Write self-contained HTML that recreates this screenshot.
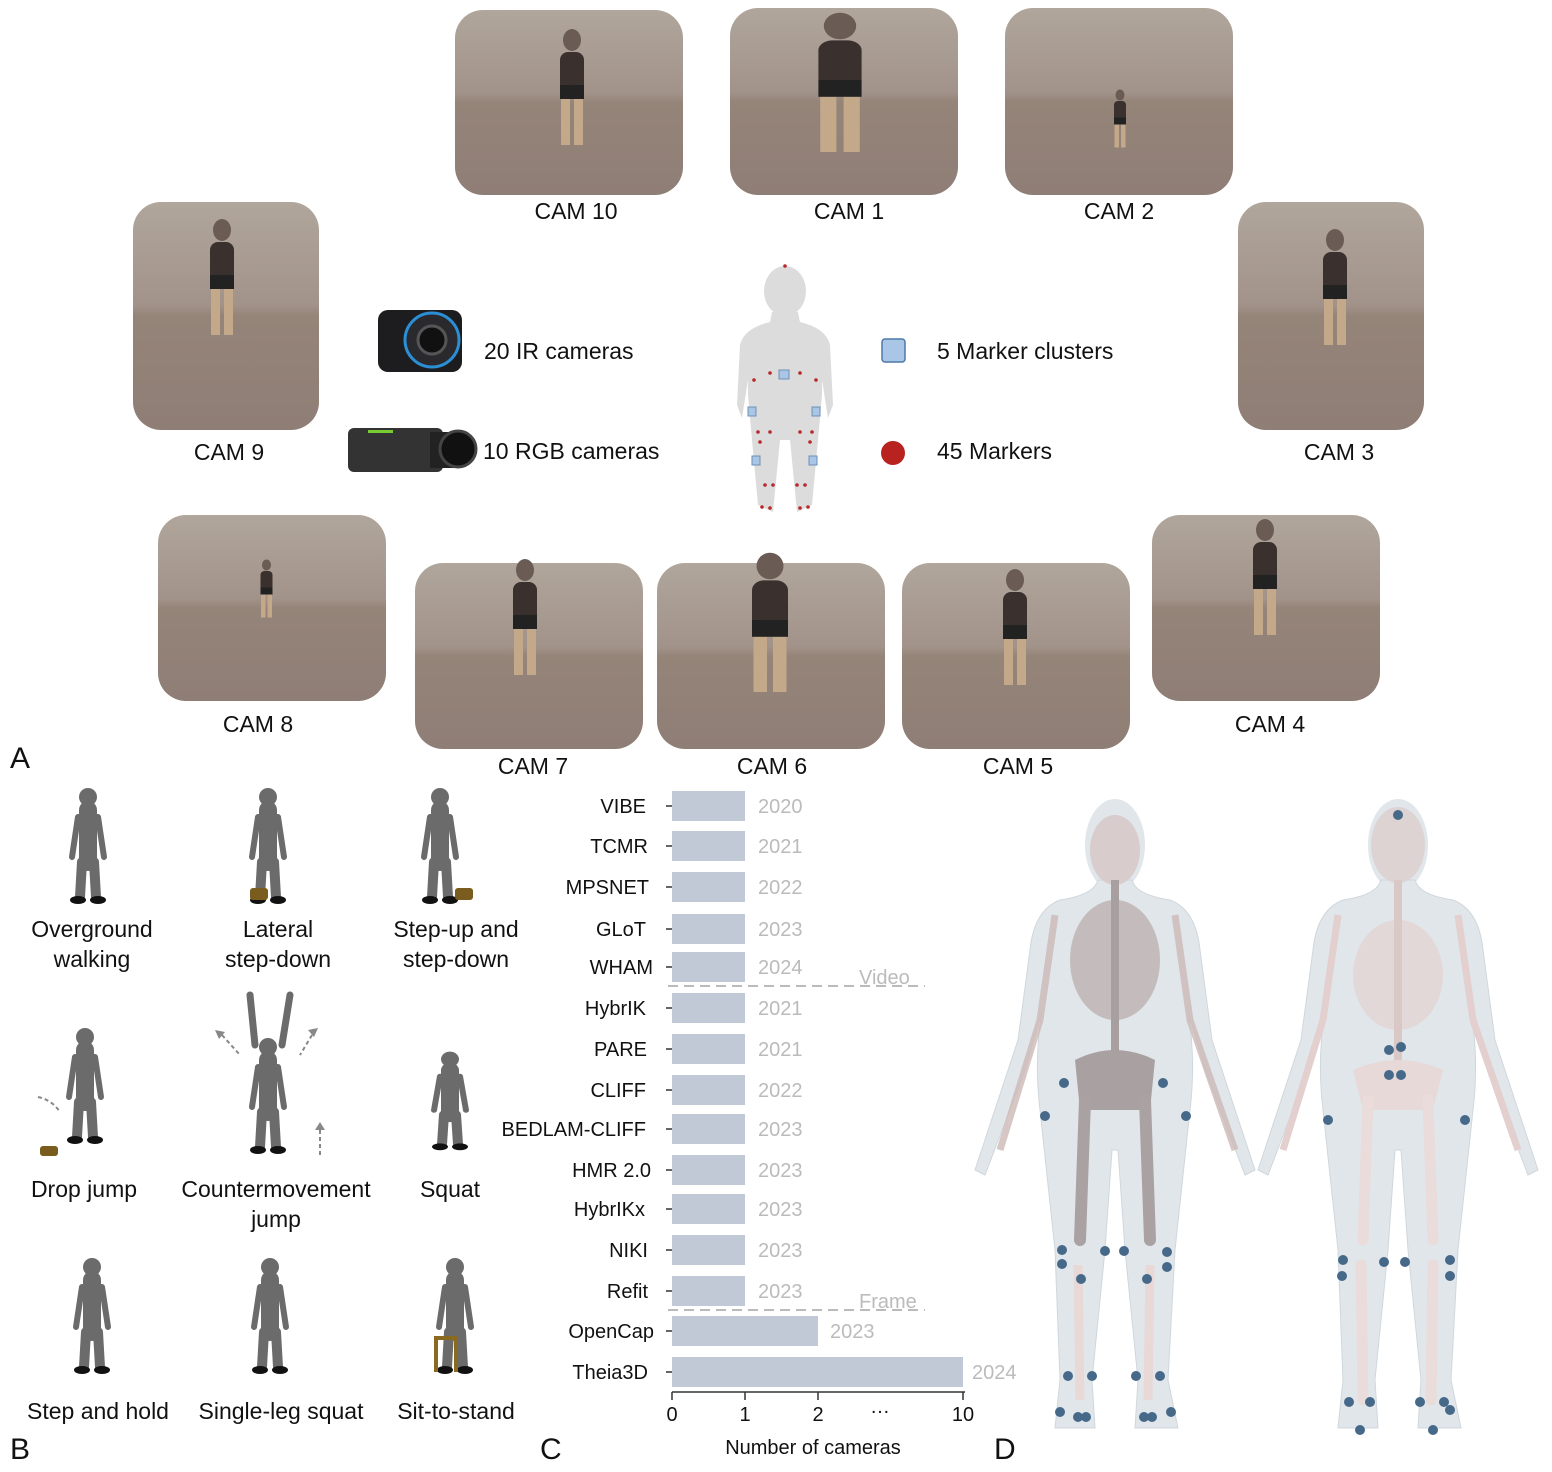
<!DOCTYPE html>
<html><head><meta charset="utf-8"><style>
html,body{margin:0;padding:0;background:#fff}
svg{display:block}
text{font-family:"Liberation Sans","DejaVu Sans",sans-serif;fill:#111}
</style></head><body>
<svg width="1552" height="1472" viewBox="0 0 1552 1472" xmlns="http://www.w3.org/2000/svg">
<defs>
<linearGradient id="ph" x1="0" y1="0" x2="0" y2="1">
<stop offset="0" stop-color="#b0a69c"/><stop offset="0.45" stop-color="#a2938a"/><stop offset="0.5" stop-color="#958478"/><stop offset="1" stop-color="#8f7e76"/>
</linearGradient>
<g id="person"><ellipse cx="0" cy="-70" rx="9" ry="11" fill="#6a5c55"/><rect x="-12" y="-58" width="24" height="40" rx="8" fill="#3a302e"/><rect x="-11" y="-20" width="9" height="55" fill="#c4a88a"/><rect x="2" y="-20" width="9" height="55" fill="#c4a88a"/><rect x="-12" y="-25" width="24" height="14" fill="#222"/></g>
<g id="fig"><circle cx="0" cy="-95" r="9" fill="#6b6b6b"/><path d="M0,-82 L0,-30" stroke="#6b6b6b" stroke-width="18" stroke-linecap="round"/><path d="M-6,-30 L-8,5" stroke="#6b6b6b" stroke-width="10" stroke-linecap="round"/><path d="M6,-30 L8,5" stroke="#6b6b6b" stroke-width="10" stroke-linecap="round"/><path d="M-10,-75 L-16,-35" stroke="#6b6b6b" stroke-width="6" stroke-linecap="round"/><path d="M10,-75 L16,-35" stroke="#6b6b6b" stroke-width="6" stroke-linecap="round"/><ellipse cx="-10" cy="8" rx="8" ry="4" fill="#111"/><ellipse cx="10" cy="8" rx="8" ry="4" fill="#111"/></g>
</defs>

<!-- Photos -->
<g>
<rect x="455" y="10" width="228" height="185" rx="28" fill="url(#ph)"/><use href="#person" x="572" y="110"/>
<rect x="730" y="8" width="228" height="187" rx="28" fill="url(#ph)"/><use href="#person" x="840" y="110" transform="translate(-672,-22) scale(1.8 1.2)"/>
<rect x="1005" y="8" width="228" height="187" rx="28" fill="url(#ph)"/><use href="#person" x="1120" y="130" transform="translate(560,65) scale(0.5)"/>
<rect x="133" y="202" width="186" height="228" rx="28" fill="url(#ph)"/><use href="#person" x="222" y="300"/>
<rect x="1238" y="202" width="186" height="228" rx="28" fill="url(#ph)"/><use href="#person" x="1335" y="310"/>
<rect x="158" y="515" width="228" height="186" rx="28" fill="url(#ph)"/><use href="#person" x="267" y="600" transform="translate(133,300) scale(0.5)"/>
<rect x="415" y="563" width="228" height="186" rx="28" fill="url(#ph)"/><use href="#person" x="525" y="640"/>
<rect x="657" y="563" width="228" height="186" rx="28" fill="url(#ph)"/><use href="#person" x="770" y="650" transform="translate(-385,-130) scale(1.5 1.2)"/>
<rect x="902" y="563" width="228" height="186" rx="28" fill="url(#ph)"/><use href="#person" x="1015" y="650"/>
<rect x="1152" y="515" width="228" height="186" rx="28" fill="url(#ph)"/><use href="#person" x="1265" y="600"/>
</g>
<g font-size="23" text-anchor="middle">
<text x="576" y="219">CAM 10</text><text x="849" y="219">CAM 1</text><text x="1119" y="219">CAM 2</text>
<text x="229" y="460">CAM 9</text><text x="1339" y="460">CAM 3</text>
<text x="258" y="732">CAM 8</text><text x="1270" y="732">CAM 4</text>
<text x="533" y="774">CAM 7</text><text x="772" y="774">CAM 6</text><text x="1018" y="774">CAM 5</text>
</g>
<text x="10" y="768" font-size="30">A</text>

<!-- legend icons -->
<rect x="378" y="310" width="84" height="62" rx="10" fill="#1d1d1f"/>
<circle cx="432" cy="340" r="27" fill="#2a2a2e" stroke="#2b8fd6" stroke-width="3"/><circle cx="432" cy="340" r="14" fill="#111" stroke="#555" stroke-width="3"/>
<rect x="348" y="428" width="95" height="44" rx="6" fill="#333"/><rect x="368" y="430" width="25" height="3" fill="#7c3"/>
<rect x="430" y="432" width="25" height="36" fill="#222"/><circle cx="458" cy="449" r="18" fill="#111" stroke="#444" stroke-width="3"/>
<text x="484" y="359" font-size="23">20 IR cameras</text>
<text x="483" y="459" font-size="23">10 RGB cameras</text>

<!-- center body -->
<g fill="#dcdcdc">
<ellipse cx="785" cy="291" rx="21" ry="25"/>
<path d="M772,312 L798,312 L800,322 Q826,328 830,345 L833,405 L828,418 L822,380 L822,395 L818,440 L812,505 L797,512 L790,440 L786,440 L780,440 L773,512 L758,505 L752,440 L748,395 L748,380 L742,418 L737,405 L740,345 Q744,328 770,322 Z"/>
</g>
<g fill="#b8282a">
<circle cx="785" cy="266" r="1.8"/><circle cx="754" cy="380" r="1.8"/><circle cx="816" cy="380" r="1.8"/><circle cx="770" cy="373" r="1.8"/><circle cx="800" cy="373" r="1.8"/>
<circle cx="758" cy="432" r="1.8"/><circle cx="770" cy="432" r="1.8"/><circle cx="800" cy="432" r="1.8"/><circle cx="812" cy="432" r="1.8"/>
<circle cx="760" cy="442" r="1.8"/><circle cx="810" cy="442" r="1.8"/><circle cx="765" cy="485" r="1.8"/><circle cx="773" cy="485" r="1.8"/><circle cx="797" cy="485" r="1.8"/><circle cx="805" cy="485" r="1.8"/>
<circle cx="762" cy="507" r="1.8"/><circle cx="770" cy="508" r="1.8"/><circle cx="800" cy="508" r="1.8"/><circle cx="808" cy="507" r="1.8"/>
</g>
<g fill="#a9c6e6" stroke="#6c8fb5" stroke-width="1">
<rect x="779" y="370" width="10" height="9"/><rect x="748" y="407" width="8" height="9"/><rect x="812" y="407" width="8" height="9"/><rect x="752" y="456" width="8" height="9"/><rect x="809" y="456" width="8" height="9"/>
</g>
<rect x="882" y="339" width="23" height="23" rx="3" fill="#a9c6e6" stroke="#4d78a8" stroke-width="1.5"/>
<text x="937" y="359" font-size="23">5 Marker clusters</text>
<circle cx="893" cy="453" r="12" fill="#b8231f"/>
<text x="937" y="459" font-size="23">45 Markers</text>

<!-- B figures -->
<g transform="translate(88,892)"><use href="#fig"/></g>
<g transform="translate(268,892)"><use href="#fig"/></g><rect x="250" y="888" width="18" height="12" rx="3" fill="#7a5c1e"/>
<g transform="translate(440,892)"><use href="#fig"/></g><rect x="455" y="888" width="18" height="12" rx="3" fill="#7a5c1e"/>
<g transform="translate(85,1132)"><use href="#fig"/></g><rect x="40" y="1146" width="18" height="10" rx="3" fill="#7a5c1e"/>
<path d="M38,1097 Q52,1100 60,1112" stroke="#888" stroke-width="2" stroke-dasharray="4,3" fill="none"/>
<g transform="translate(268,1142)"><use href="#fig"/></g>
<path d="M255,1045 L250,995 M282,1045 L290,995" stroke="#6b6b6b" stroke-width="7" stroke-linecap="round"/>
<path d="M222,1035 L240,1055 M312,1035 L300,1055 M320,1155 L320,1128" stroke="#888" stroke-width="2" stroke-dasharray="4,3"/>
<path d="M215,1030 l10,2 l-6,7z M318,1028 l-10,2 l6,7z M320,1122 l-5,8 h10z" fill="#888"/>
<g transform="translate(450,1140) scale(1,0.85)"><use href="#fig"/></g>
<g transform="translate(92,1362)"><use href="#fig"/></g>
<g transform="translate(270,1362)"><use href="#fig"/></g>
<g transform="translate(455,1362)"><use href="#fig"/></g>
<path d="M436,1372 V1338 H456 V1372" stroke="#8a6a20" stroke-width="4" fill="none"/>
<g font-size="23" text-anchor="middle">
<text x="92" y="937">Overground</text><text x="92" y="967">walking</text>
<text x="278" y="937">Lateral</text><text x="278" y="967">step-down</text>
<text x="456" y="937">Step-up and</text><text x="456" y="967">step-down</text>
<text x="84" y="1197">Drop jump</text>
<text x="276" y="1197">Countermovement</text><text x="276" y="1227">jump</text>
<text x="450" y="1197">Squat</text>
<text x="98" y="1419">Step and hold</text><text x="281" y="1419">Single-leg squat</text><text x="456" y="1419">Sit-to-stand</text>
</g>
<text x="10" y="1459" font-size="30">B</text>

<!-- C chart -->
<g fill="#c1c9d6">
<rect x="672" y="791" width="73" height="30"/><rect x="672" y="831" width="73" height="30"/><rect x="672" y="872" width="73" height="30"/><rect x="672" y="914" width="73" height="30"/><rect x="672" y="952" width="73" height="30"/>
<rect x="672" y="993" width="73" height="30"/><rect x="672" y="1034" width="73" height="30"/><rect x="672" y="1075" width="73" height="30"/><rect x="672" y="1114" width="73" height="30"/><rect x="672" y="1155" width="73" height="30"/>
<rect x="672" y="1194" width="73" height="30"/><rect x="672" y="1235" width="73" height="30"/><rect x="672" y="1276" width="73" height="30"/>
<rect x="672" y="1316" width="146" height="30"/><rect x="672" y="1357" width="291" height="30"/>
</g>
<g stroke="#333" stroke-width="1.5">
<path d="M666,806h6M666,846h6M666,887h6M666,929h6M666,967h6M666,1008h6M666,1049h6M666,1090h6M666,1129h6M666,1170h6M666,1209h6M666,1250h6M666,1291h6M666,1331h6M666,1372h6"/>
<path d="M672,1392 H965 M672,1392v8 M745,1392v8 M818,1392v8 M963,1392v8"/>
</g>
<g font-size="20" text-anchor="end">
<text x="646" y="813">VIBE</text><text x="648" y="853">TCMR</text><text x="649" y="894">MPSNET</text><text x="646" y="936">GLoT</text><text x="653" y="974">WHAM</text>
<text x="646" y="1015">HybrIK</text><text x="647" y="1056">PARE</text><text x="646" y="1097">CLIFF</text><text x="646" y="1136">BEDLAM-CLIFF</text><text x="651" y="1177">HMR 2.0</text>
<text x="645" y="1216">HybrIKx</text><text x="648" y="1257">NIKI</text><text x="648" y="1298">Refit</text><text x="654" y="1338">OpenCap</text><text x="648" y="1379">Theia3D</text>
</g>
<g font-size="20" fill="#bbb" style="fill:#bbb">
<text x="758" y="813" style="fill:#bbb">2020</text><text x="758" y="853" style="fill:#bbb">2021</text><text x="758" y="894" style="fill:#bbb">2022</text><text x="758" y="936" style="fill:#bbb">2023</text><text x="758" y="974" style="fill:#bbb">2024</text>
<text x="758" y="1015" style="fill:#bbb">2021</text><text x="758" y="1056" style="fill:#bbb">2021</text><text x="758" y="1097" style="fill:#bbb">2022</text><text x="758" y="1136" style="fill:#bbb">2023</text><text x="758" y="1177" style="fill:#bbb">2023</text>
<text x="758" y="1216" style="fill:#bbb">2023</text><text x="758" y="1257" style="fill:#bbb">2023</text><text x="758" y="1298" style="fill:#bbb">2023</text><text x="830" y="1338" style="fill:#bbb">2023</text><text x="972" y="1379" style="fill:#bbb">2024</text>
<text x="859" y="984" style="fill:#bbb">Video</text><text x="859" y="1308" style="fill:#bbb">Frame</text>
</g>
<path d="M668,986 H925 M668,1310 H925" stroke="#bbb" stroke-width="2" stroke-dasharray="10,6"/>
<g font-size="20" text-anchor="middle">
<text x="672" y="1421">0</text><text x="745" y="1421">1</text><text x="818" y="1421">2</text><text x="880" y="1413">…</text><text x="963" y="1421">10</text>
<text x="813" y="1454">Number of cameras</text>
</g>
<text x="540" y="1459" font-size="30">C</text>

<!-- D bodies -->
<g id="bodyF">
<ellipse cx="1115" cy="845" rx="30" ry="46" fill="#e1e6ea"/>
<path d="M1098,880 L1132,880 Q1136,895 1170,900 Q1196,910 1200,950 L1212,1040 L1255,1170 L1245,1175 L1205,1070 L1188,1010 Q1196,1060 1190,1110 L1175,1250 L1168,1380 L1178,1428 L1135,1428 L1138,1380 L1125,1250 L1118,1150 L1112,1150 L1105,1250 L1092,1380 L1095,1428 L1055,1428 L1060,1380 L1055,1250 L1040,1110 Q1034,1060 1042,1010 L1025,1070 L985,1175 L975,1170 L1018,1040 L1030,950 Q1034,910 1060,900 Q1094,895 1098,880 Z" fill="#e1e6ea" stroke="#d0d7dc"/>
</g>
<g>
<ellipse cx="1115" cy="850" rx="25" ry="35" fill="#d8cccc"/>
<ellipse cx="1115" cy="960" rx="45" ry="60" fill="#bbb0b0" opacity="0.8"/>
<path d="M1115,880 V1070" stroke="#a8a0a0" stroke-width="8"/>
<path d="M1075,1060 Q1115,1040 1155,1060 L1150,1110 L1080,1110 Z" fill="#a9a1a1"/>
<path d="M1085,1100 L1080,1240 M1145,1100 L1150,1240" stroke="#aaa2a2" stroke-width="12" stroke-linecap="round"/>
<path d="M1078,1265 L1080,1400 M1150,1265 L1148,1400" stroke="#e8d8d6" stroke-width="9"/>
<path d="M1055,915 L1040,1020 L1000,1150 M1175,915 L1190,1020 L1235,1150" stroke="#ccb9b7" stroke-width="7" fill="none" opacity="0.8"/>
</g>
<g transform="translate(283,0)">
<ellipse cx="1115" cy="845" rx="30" ry="46" fill="#e1e6ea"/>
<path d="M1098,880 L1132,880 Q1136,895 1170,900 Q1196,910 1200,950 L1212,1040 L1255,1170 L1245,1175 L1205,1070 L1188,1010 Q1196,1060 1190,1110 L1175,1250 L1168,1380 L1178,1428 L1135,1428 L1138,1380 L1125,1250 L1118,1150 L1112,1150 L1105,1250 L1092,1380 L1095,1428 L1055,1428 L1060,1380 L1055,1250 L1040,1110 Q1034,1060 1042,1010 L1025,1070 L985,1175 L975,1170 L1018,1040 L1030,950 Q1034,910 1060,900 Q1094,895 1098,880 Z" fill="#e1e6ea" stroke="#d0d7dc"/>
<ellipse cx="1115" cy="845" rx="27" ry="38" fill="#ddd3d3"/>
<ellipse cx="1115" cy="975" rx="45" ry="55" fill="#e2d6d5" opacity="0.9"/>
<path d="M1115,880 V1080" stroke="#d9c8c6" stroke-width="8"/>
<path d="M1070,1070 Q1115,1050 1160,1070 L1150,1110 L1080,1110 Z" fill="#e6d9d8"/>
<path d="M1085,1100 L1080,1240 M1145,1100 L1150,1240 M1078,1265 L1080,1400 M1150,1265 L1148,1400" stroke="#eadcda" stroke-width="11" stroke-linecap="round"/>
<path d="M1055,915 L1040,1020 L1000,1150 M1175,915 L1190,1020 L1235,1150" stroke="#e3cfcd" stroke-width="7" fill="none"/>
</g>
<g fill="#46698a">
<circle cx="1064" cy="1083" r="5"/><circle cx="1163" cy="1083" r="5"/><circle cx="1045" cy="1116" r="5"/><circle cx="1186" cy="1116" r="5"/>
<circle cx="1062" cy="1250" r="5"/><circle cx="1062" cy="1264" r="5"/><circle cx="1105" cy="1251" r="5"/><circle cx="1124" cy="1251" r="5"/><circle cx="1167" cy="1252" r="5"/><circle cx="1167" cy="1267" r="5"/>
<circle cx="1081" cy="1279" r="5"/><circle cx="1147" cy="1279" r="5"/><circle cx="1068" cy="1376" r="5"/><circle cx="1092" cy="1376" r="5"/><circle cx="1136" cy="1376" r="5"/><circle cx="1160" cy="1376" r="5"/>
<circle cx="1060" cy="1412" r="5"/><circle cx="1078" cy="1417" r="5"/><circle cx="1086" cy="1417" r="5"/><circle cx="1144" cy="1417" r="5"/><circle cx="1152" cy="1417" r="5"/><circle cx="1171" cy="1412" r="5"/>
<circle cx="1398" cy="815" r="5"/><circle cx="1389" cy="1050" r="5"/><circle cx="1401" cy="1047" r="5"/><circle cx="1389" cy="1075" r="5"/><circle cx="1401" cy="1075" r="5"/>
<circle cx="1328" cy="1120" r="5"/><circle cx="1465" cy="1120" r="5"/><circle cx="1343" cy="1260" r="5"/><circle cx="1342" cy="1276" r="5"/><circle cx="1384" cy="1262" r="5"/><circle cx="1405" cy="1262" r="5"/>
<circle cx="1450" cy="1260" r="5"/><circle cx="1450" cy="1276" r="5"/><circle cx="1349" cy="1402" r="5"/><circle cx="1370" cy="1402" r="5"/><circle cx="1420" cy="1402" r="5"/><circle cx="1444" cy="1402" r="5"/><circle cx="1450" cy="1410" r="5"/>
<circle cx="1360" cy="1430" r="5"/><circle cx="1433" cy="1430" r="5"/>
</g>
<text x="994" y="1459" font-size="30">D</text>
</svg>
</body></html>
